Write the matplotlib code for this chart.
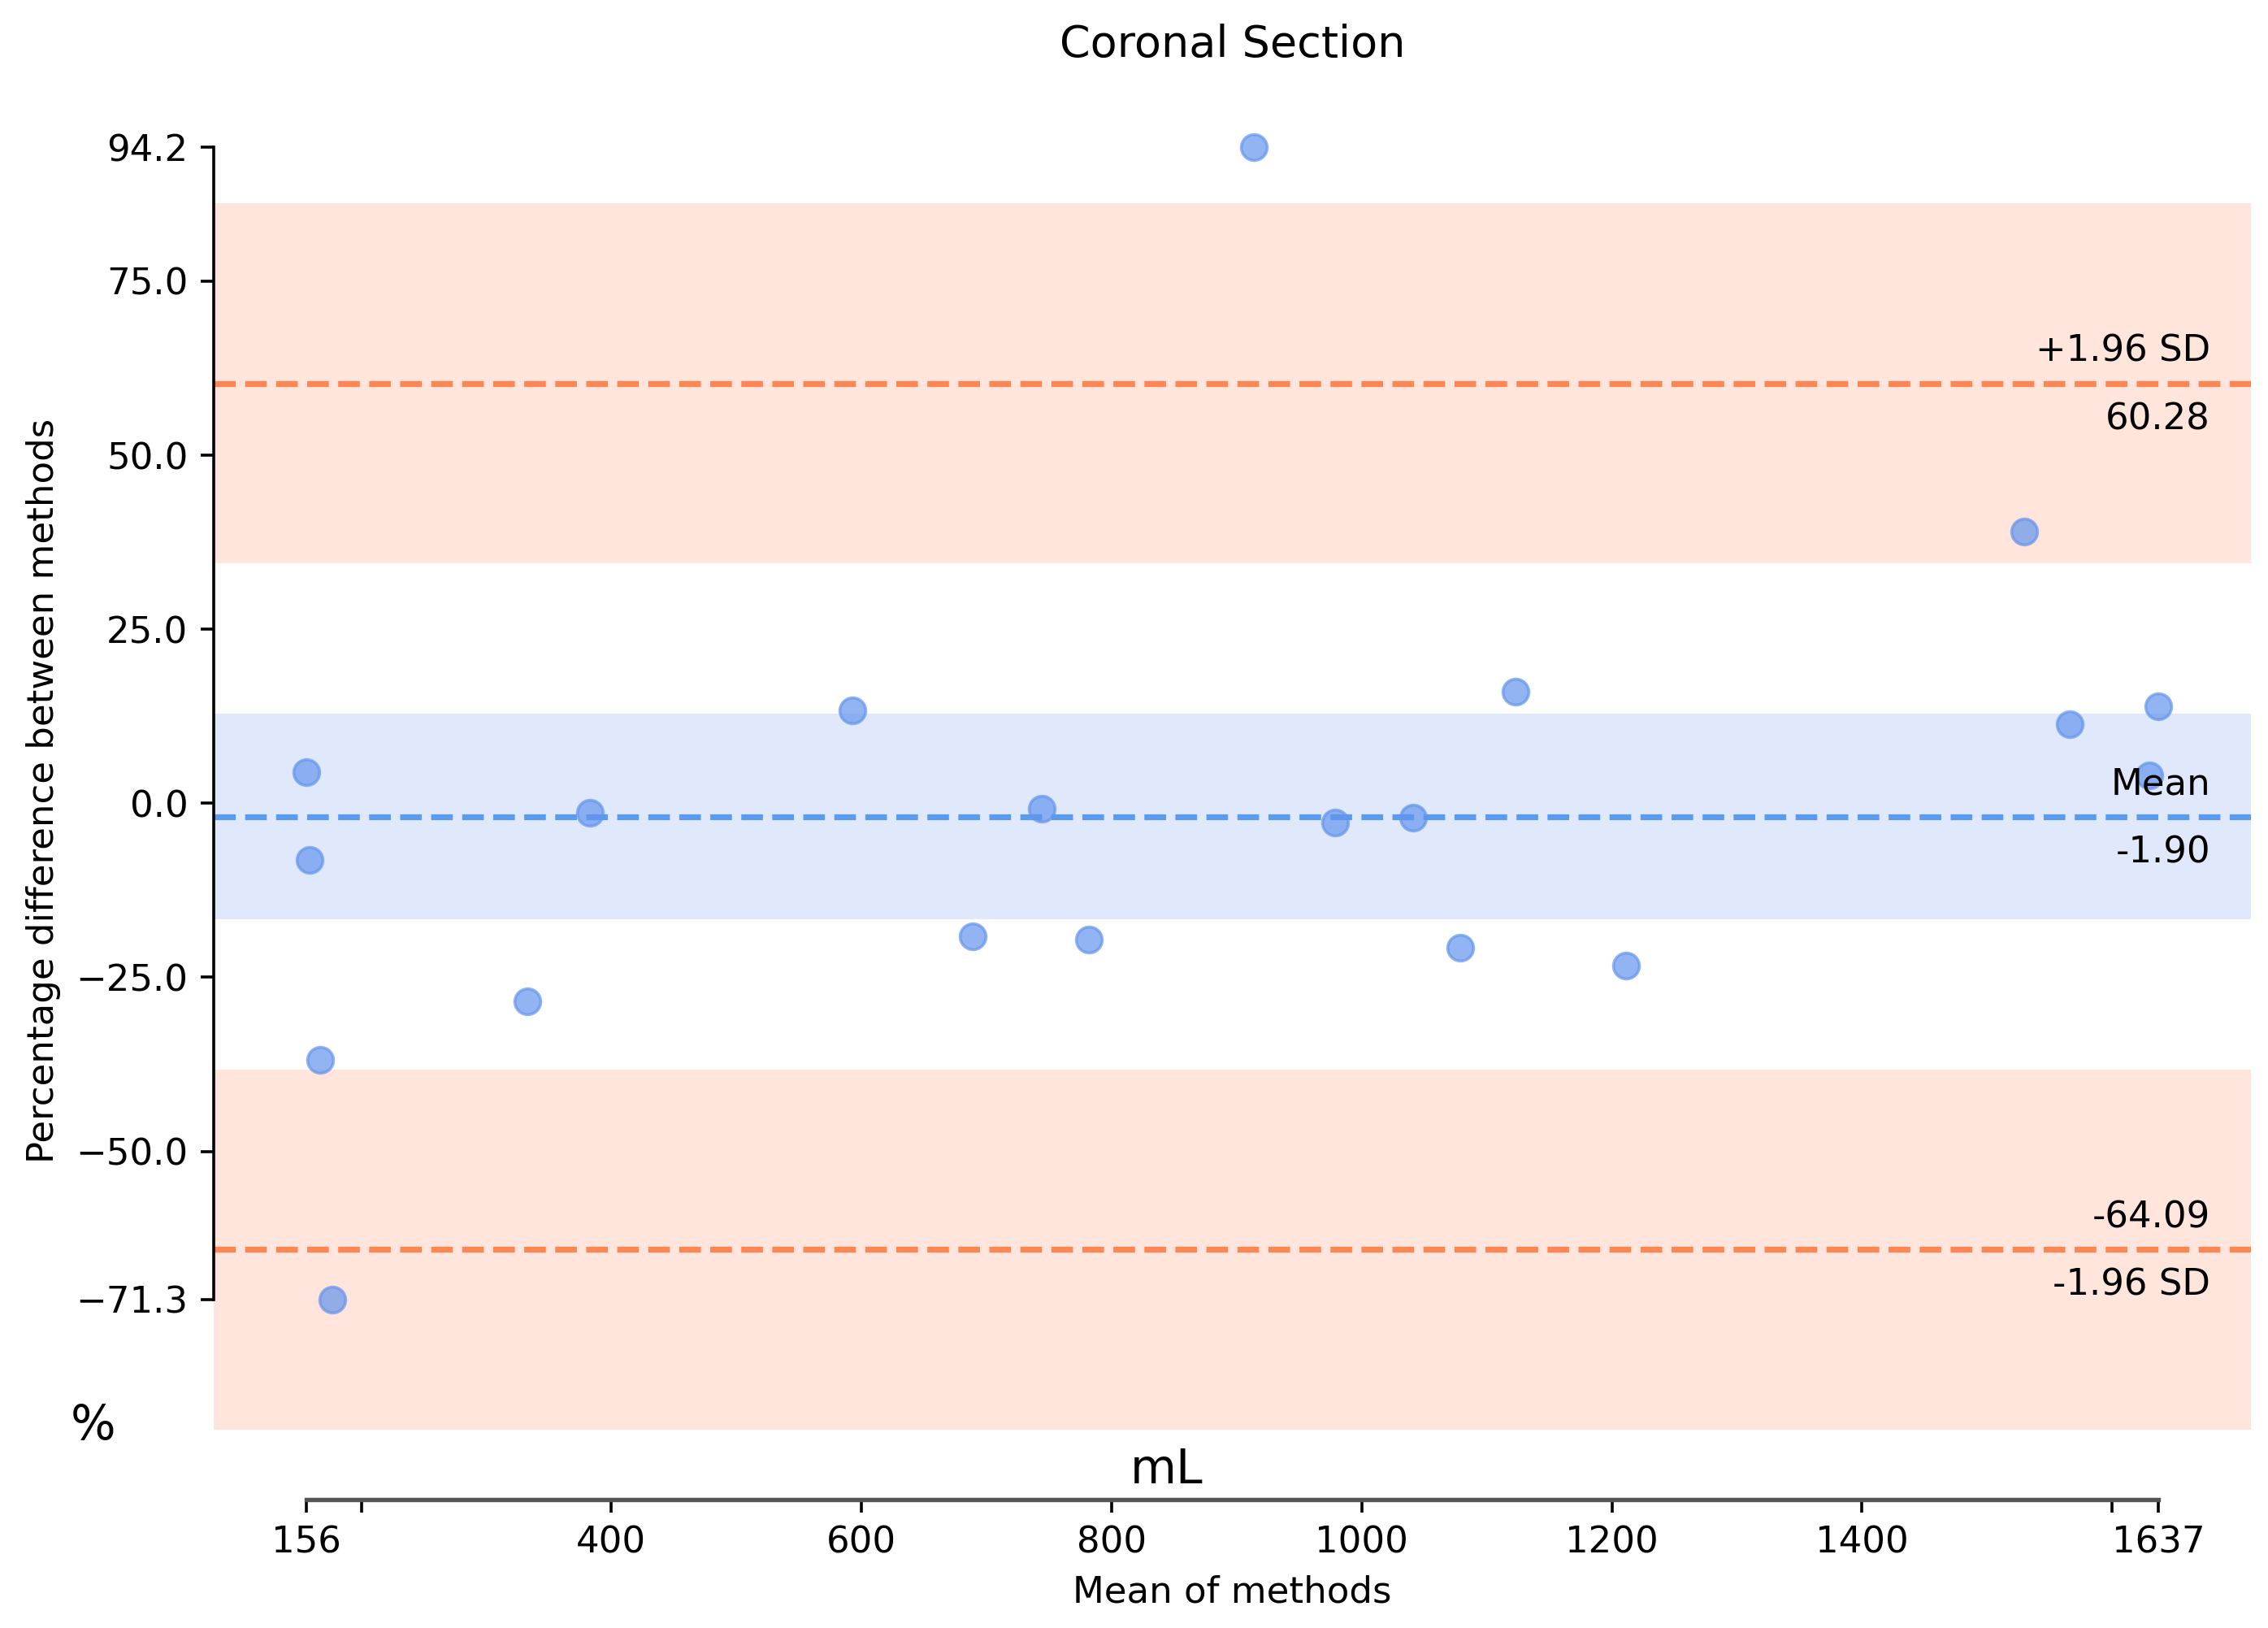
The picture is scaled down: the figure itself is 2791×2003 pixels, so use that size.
import matplotlib
matplotlib.use('Agg')
import matplotlib.pyplot as plt

# Bland-Altman, coronal section
mean_of_methods = [156, 159, 167, 177, 333, 383, 593, 689, 744, 782,
                   914, 979, 1041, 1079, 1123, 1211, 1530, 1566, 1630, 1637]
pct_difference = [4.5, -8.1, -36.9, -71.3, -28.5, -1.4, 13.4, -19.1, -0.8, -19.6,
                  94.2, -2.8, -2.1, -20.8, 16.0, -23.3, 39.0, 11.3, 4.0, 13.9]

mean_diff = -1.90
upper_loa = 60.28
lower_loa = -64.09

# confidence bands (low, high)
upper_band = (34.5, 86.2)
mean_band = (-16.7, 12.9)
lower_band = (-90.0, -38.3)

y_ticks = [-71.3, -50.0, -25.0, 0.0, 25.0, 50.0, 75.0, 94.2]
x_ticks = [156, 200, 400, 600, 800, 1000, 1200, 1400, 1600, 1637]
x_ticklabels = ['156', '', '400', '600', '800', '1000', '1200', '1400', '', '1637']


def main():
    dpi = 324
    fig = plt.figure(figsize=(2791 / dpi, 2003 / dpi), dpi=dpi)
    ax = fig.add_axes([0.0942, 0.079, 0.8983, 0.8706])

    ax.axhspan(*upper_band, color='coral', alpha=0.2, lw=0)
    ax.axhspan(*mean_band, color='cornflowerblue', alpha=0.2, lw=0)
    ax.axhspan(*lower_band, color='coral', alpha=0.2, lw=0)

    ax.axhline(upper_loa, color='#ff8552', ls='--', lw=1.6)
    ax.axhline(mean_diff, color='#5a9af0', ls='--', lw=1.6)
    ax.axhline(lower_loa, color='#ff8552', ls='--', lw=1.6)

    ax.scatter(mean_of_methods, pct_difference, s=50, color='cornflowerblue',
               alpha=0.7, edgecolors='cornflowerblue', linewidths=0.8, zorder=3)

    # labels on the lines
    lab = dict(xycoords=('axes fraction', 'data'), textcoords='offset points',
               ha='right', fontsize=10, zorder=4)
    ax.annotate('+1.96 SD', (0.98, upper_loa), xytext=(0, 4), va='bottom', **lab)
    ax.annotate(f'{upper_loa:.2f}', (0.98, upper_loa), xytext=(0, -5), va='top', **lab)
    ax.annotate('Mean', (0.98, mean_diff), xytext=(0, 4), va='bottom', **lab)
    ax.annotate(f'{mean_diff:.2f}', (0.98, mean_diff), xytext=(0, -5), va='top', **lab)
    ax.annotate(f'{lower_loa:.2f}', (0.98, lower_loa), xytext=(0, 4), va='bottom', **lab)
    ax.annotate('-1.96 SD', (0.98, lower_loa), xytext=(0, -5), va='top', **lab)

    ax.set_xlim(82, 1711)
    ax.set_ylim(-100.0, 103.6)

    ax.set_yticks(y_ticks)
    ax.set_yticklabels([f'{v:.1f}'.replace('-', '\u2212') for v in y_ticks])
    ax.set_xticks(x_ticks)
    ax.set_xticklabels(x_ticklabels)
    ax.tick_params(labelsize=10)

    ax.spines['top'].set_visible(False)
    ax.spines['right'].set_visible(False)
    ax.spines['left'].set_bounds(y_ticks[0], y_ticks[-1])
    ax.spines['bottom'].set_bounds(x_ticks[0], x_ticks[-1])
    ax.spines['bottom'].set_color('#555555')
    ax.spines['bottom'].set_linewidth(1.2)

    ax.set_title('Coronal Section', fontsize=12, pad=7)
    ax.set_xlabel('Mean of methods', fontsize=10)
    ax.set_ylabel('Percentage difference between methods', fontsize=10)

    fig.text(0.041, 0.124, '%', fontsize=13, ha='center', va='center')
    fig.text(0.5145, 0.097, 'mL', fontsize=13, ha='center', va='center')

    fig.savefig('out.png', dpi=dpi)


if __name__ == '__main__':
    main()
